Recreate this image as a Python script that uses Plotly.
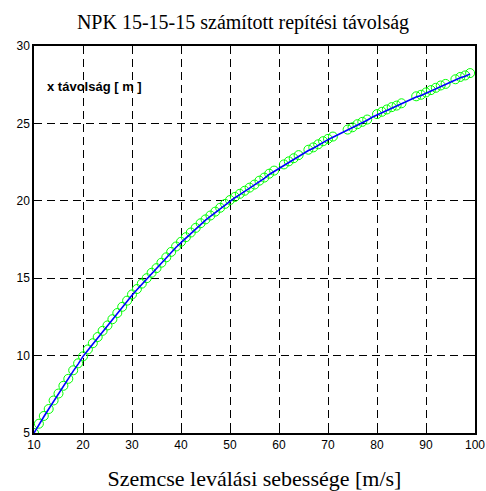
import plotly.graph_objects as go

# Fitted throw-distance curve (release speed [m/s] -> distance [m])
line_x = list(range(10, 100))
line_y = [
    5.00, 5.55, 6.05, 6.55, 7.05, 7.50, 8.00, 8.50, 9.00, 9.45,
    9.95, 10.35, 10.75, 11.15, 11.55, 11.90, 12.30, 12.70, 13.10, 13.50,
    13.90, 14.25, 14.60, 14.95, 15.30, 15.60, 15.95, 16.30, 16.65, 17.00,
    17.30, 17.60, 17.90, 18.20, 18.50, 18.75, 19.00, 19.25, 19.50, 19.75,
    20.00, 20.20, 20.40, 20.60, 20.80, 21.00, 21.25, 21.45, 21.70, 21.90,
    22.10, 22.30, 22.50, 22.70, 22.90, 23.05, 23.25, 23.40, 23.60, 23.80,
    23.95, 24.10, 24.25, 24.40, 24.55, 24.70, 24.90, 25.05, 25.20, 25.40,
    25.55, 25.70, 25.85, 26.00, 26.10, 26.25, 26.40, 26.55, 26.70, 26.80,
    26.95, 27.10, 27.25, 27.40, 27.50, 27.65, 27.80, 27.95, 28.05, 28.20,
]

# Computed sample points
pts_x = [
    10, 11, 12, 13, 14, 15, 16, 17, 18, 19, 20, 21, 22, 23, 24, 25, 26, 27,
    28, 29, 30, 31, 32, 33, 34, 35, 36, 37, 38, 39, 40, 41, 42, 43, 44, 45,
    46, 47, 48, 49, 50, 51, 52, 53, 54, 55, 56, 57, 58, 59,
    61, 62, 63, 64, 66, 67, 68, 69, 70, 71,
    74, 75, 76, 77, 78, 80, 81, 82, 83, 84, 85,
    88, 89, 90, 91, 92, 93, 94, 96, 97, 98, 99,
]
pts_y = [
    5.00, 5.60, 6.10, 6.55, 7.10, 7.55, 8.05, 8.50, 9.05, 9.50, 9.95, 10.40,
    10.80, 11.20, 11.60, 11.95, 12.35, 12.75, 13.15, 13.55, 13.95, 14.30,
    14.65, 15.00, 15.35, 15.65, 16.00, 16.35, 16.70, 17.05, 17.35, 17.65,
    17.95, 18.25, 18.55, 18.80, 19.05, 19.30, 19.55, 19.80, 20.05, 20.25,
    20.45, 20.65, 20.85, 21.05, 21.30, 21.50, 21.75, 21.95,
    22.35, 22.55, 22.75, 22.95, 23.30, 23.45, 23.65, 23.85, 24.00, 24.15,
    24.60, 24.75, 24.95, 25.10, 25.25, 25.60, 25.75, 25.90, 26.05, 26.15, 26.30,
    26.75, 26.85, 27.00, 27.15, 27.30, 27.45, 27.55, 27.85, 28.00, 28.10, 28.25,
]

x_ticks = [10, 20, 30, 40, 50, 60, 70, 80, 90, 100]
y_ticks = [5, 10, 15, 20, 25, 30]

fig = go.Figure()
fig.add_trace(go.Scatter(
    x=pts_x, y=pts_y, mode="markers",
    marker=dict(symbol="circle-open", size=9, color="#00ff00",
                line=dict(width=1, color="#00ff00")),
    showlegend=False, hoverinfo="skip",
))
fig.add_trace(go.Scatter(
    x=line_x, y=line_y, mode="lines",
    line=dict(color="#0000ff", width=1.6),
    showlegend=False,
))

axis_common = dict(
    showline=True, linecolor="black", linewidth=1.5, mirror="ticks",
    ticks="inside", ticklen=4, tickcolor="black",
    showgrid=True, gridcolor="black", gridwidth=1, griddash="8px,5px",
    zeroline=False, automargin=False,
    tickfont=dict(family="Liberation Sans, Arial", size=12, color="black"),
)

fig.update_xaxes(range=[10, 100], tickvals=x_ticks,
                 ticktext=[str(v) for v in x_ticks],
                 title=dict(text="Szemcse leválási sebessége [m/s]",
                            font=dict(family="Liberation Serif, Times New Roman",
                                      size=22, color="black"),
                            standoff=21),
                 **axis_common)
fig.update_yaxes(range=[5, 30], tickvals=y_ticks,
                 ticktext=[str(v) for v in y_ticks],
                 **axis_common)

fig.add_annotation(
    x=0.025, y=0.895, xref="paper", yref="paper",
    xanchor="left", yanchor="middle", showarrow=False,
    text="<b>x távolság [ m ]</b>",
    font=dict(family="Liberation Sans, Arial", size=13, color="black"),
)

fig.update_layout(
    width=486, height=491,
    margin=dict(l=34, r=11, t=46, b=58),
    paper_bgcolor="white", plot_bgcolor="white",
    title=dict(text="NPK 15-15-15 számított repítési távolság",
               x=0.5, xanchor="center", y=1 - 22 / 491, yanchor="middle",
               font=dict(family="Liberation Serif, Times New Roman",
                         size=20, color="black")),
)

fig.write_html("out.html")
